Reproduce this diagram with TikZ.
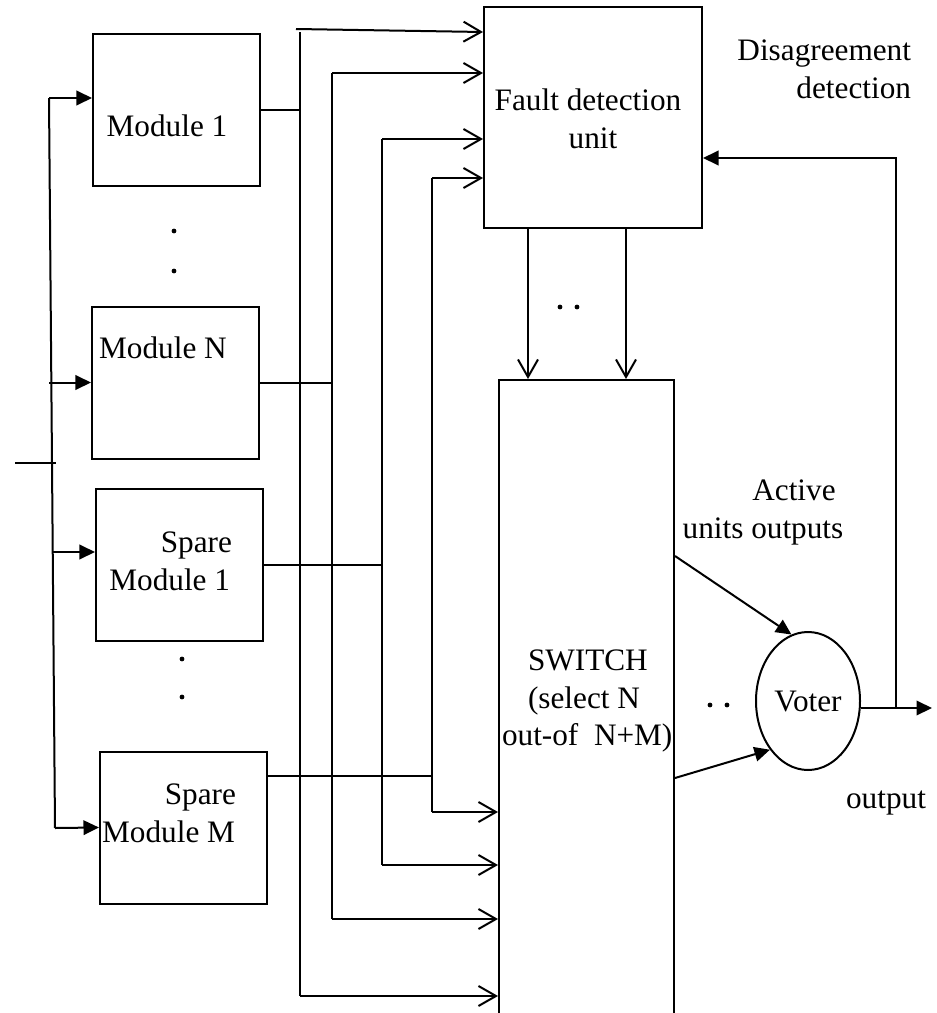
\documentclass[tikz,border=0pt]{standalone}
\usepackage{fontspec}
\setmainfont{Liberation Serif}
\usetikzlibrary{arrows.meta, shapes.geometric}

\begin{document}
\begin{tikzpicture}[x=0.4pt, y=-0.4pt, line width=0.8pt, font=\fontsize{12.5}{15}\selectfont,
  box/.style = {draw, inner sep=0, minimum width=66.8pt, minimum height=60.8pt},
  txt/.style = {inner sep=0, anchor=base},
  oa/.style = {-{Straight Barb[length=7pt, width=8pt]}},
  fa/.style = {-{Triangle[length=6.2pt, width=5.8pt]}}]
\clip (0,0) rectangle (937,1013);

\node[box] (m1) at (176.5,110) {};
\node[box] (mN) at (175.5,382.5) {};
\node[box] (s1) at (179.5,565) {};
\node[box] (sM) at (183.5,827.5) {};
\node[box, minimum width=87.2pt, minimum height=88.4pt] (fdu) at (593,117.5) {};
\node[box, minimum width=70pt, minimum height=288pt] (sw) at (586.5,740) {};
\node[draw, ellipse, inner sep=0, minimum width=41.6pt, minimum height=55.2pt] (vot) at (808,701) {Voter};

\node[txt] (t1) at (167,136) {Module 1};
\node[txt] (tN) at (163,358) {Module N};
\node[txt, anchor=base east] (ts1a) at (233,552) {Spare};
\node[txt, anchor=base east] (ts1b) at (231,590) {Module 1};
\node[txt, anchor=base east] (tsMa) at (237,804) {Spare};
\node[txt, anchor=base east] (tsMb) at (236,842) {Module M};
\node[txt] (tf1) at (588,110) {Fault detection};
\node[txt] (tf2) at (593,148) {unit};
\node[txt, anchor=base east] (td1) at (912,60) {Disagreement};
\node[txt, anchor=base east] (td2) at (912,98) {detection};
\node[txt] (ta1) at (794,500) {Active};
\node[txt] (ta2) at (763,538) {units outputs};
\node[txt, anchor=base west] (tw1) at (527,670) {SWITCH};
\node[txt, anchor=base west] (tw2) at (527,708) {(select N};
\node[txt, anchor=base west] (tw3) at (501,745) {out-of\ \ N+M)};
\node[txt] (tout) at (886,808) {output};

\coordinate (vt) at (49,98);
\coordinate (vb) at (55,828);
\coordinate (in) at (15,463);
\coordinate (inr) at (56,463);
\coordinate (b1s) at (296,29);
\coordinate (b1t) at (300,32);
\coordinate (b1b) at (300,996);
\coordinate (b2t) at (332,73);
\coordinate (b2b) at (332,919);
\coordinate (b3t) at (382,139);
\coordinate (b3b) at (382,865);
\coordinate (b4t) at (432,178);
\coordinate (b4b) at (432,812);
\coordinate (out) at (932,708);
\coordinate (fb) at (896,708);
\coordinate (fbt) at (896,158);

\draw (vt) -- (vb);
\draw (in) -- (inr);
\draw[fa] (vt) -- (m1.west |- vt);
\draw[fa] (vt |- mN.west) -- (mN.west);
\draw[fa] (53,552) -- (s1.west |- 0,552);
\draw[fa] (vb) -- (sM.west);

\draw (b1t) -- (b1b);
\draw (b2t) -- (b2b);
\draw (b3t) -- (b3b);
\draw (b4t) -- (b4b);
\draw (m1.east) -- (b1t |- m1.east);
\draw (mN.east) -- (b2t |- mN.east);
\draw (s1.east) -- (b3t |- s1.east);
\draw (sM.east |- 0,776) -- (b4t |- 0,776);

\draw[oa] (b1s) -- (fdu.west |- b1t);
\draw[oa] (b2t) -- (fdu.west |- b2t);
\draw[oa] (b3t) -- (fdu.west |- b3t);
\draw[oa] (b4t) -- (fdu.west |- b4t);
\draw[oa] (b4b) -- (sw.west |- b4b);
\draw[oa] (b3b) -- (sw.west |- b3b);
\draw[oa] (b2b) -- (sw.west |- b2b);
\draw[oa] (b1b) -- (sw.west |- b1b);

\draw[oa] (fdu.south -| 528,0) -- (sw.north -| 528,0);
\draw[oa] (fdu.south -| 626,0) -- (sw.north -| 626,0);

\draw[fa] (sw.east |- 0,556) -- (vot.104);
\draw[fa] (sw.east |- 0,778) -- (vot.232);
\draw[fa] (vot.east |- out) -- (out);
\draw[fa] (fb) -- (fbt) -- (fdu.east |- fbt);

\foreach \p in {(174,231), (174,271), (182,659), (182,697), (560,307), (577,307), (710,705), (727,705)}
  \fill \p circle[radius=2.4];
\end{tikzpicture}
\end{document}
